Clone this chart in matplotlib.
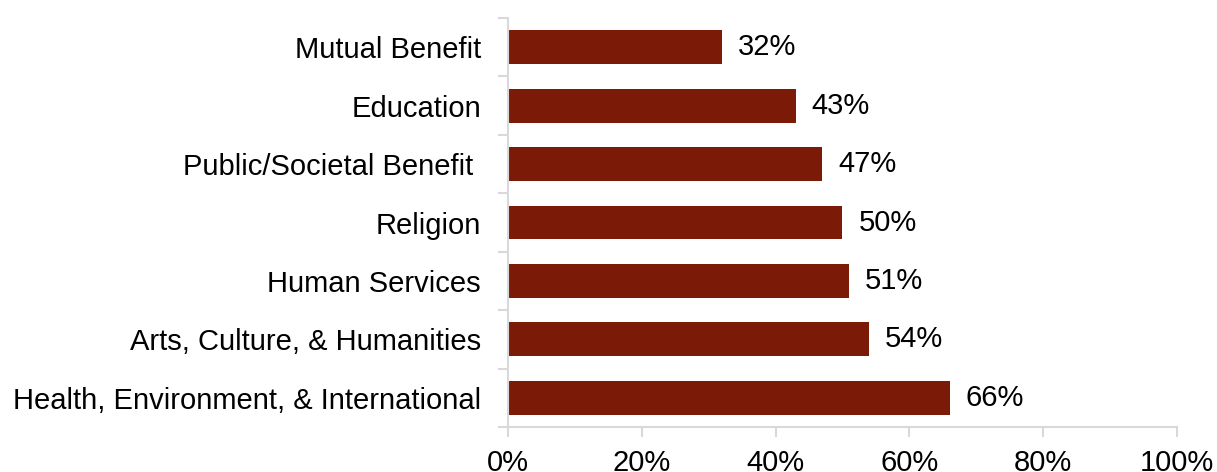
import matplotlib.pyplot as plt
from matplotlib.ticker import FixedLocator, PercentFormatter

categories = [
    "Health, Environment, & International",
    "Arts, Culture, & Humanities",
    "Human Services",
    "Religion",
    "Public/Societal Benefit ",
    "Education",
    "Mutual Benefit",
]
shares = [66, 54, 51, 50, 47, 43, 32]

bar_color = "#7B1A07"
axis_color = "#D9D9D9"

plt.rcParams["font.family"] = ["Liberation Sans", "DejaVu Sans"]

fig = plt.figure(figsize=(12.17, 4.72), dpi=100)
ax = fig.add_axes([0.4174, 0.0953, 0.5497, 0.8666])

pos = list(range(len(categories)))
ax.barh(pos, shares, height=0.58, color=bar_color)

for y, v in zip(pos, shares):
    ax.annotate(f"{v}%", (v, y), xytext=(11.5, 0), textcoords="offset points",
                va="center", ha="left", fontsize=21)

ax.set_xlim(0, 100)
ax.set_ylim(-0.5, len(categories) - 0.5)
ax.set_xticks([0, 20, 40, 60, 80, 100])
ax.xaxis.set_major_formatter(PercentFormatter(decimals=0))
ax.set_yticks(pos)
ax.set_yticklabels(categories)
ax.yaxis.set_minor_locator(FixedLocator([p - 0.5 for p in pos] + [len(pos) - 0.5]))

for side in ["top", "right"]:
    ax.spines[side].set_visible(False)
for side in ["left", "bottom"]:
    ax.spines[side].set_color(axis_color)
    ax.spines[side].set_linewidth(1.5)

ax.tick_params(axis="x", length=7, width=1.5, color=axis_color, labelsize=21, pad=9)
ax.tick_params(axis="y", which="major", length=0, labelsize=21, pad=19.5)
ax.tick_params(axis="y", which="minor", length=7, width=1.5, color=axis_color)

fig.savefig("out.png", dpi=100)
